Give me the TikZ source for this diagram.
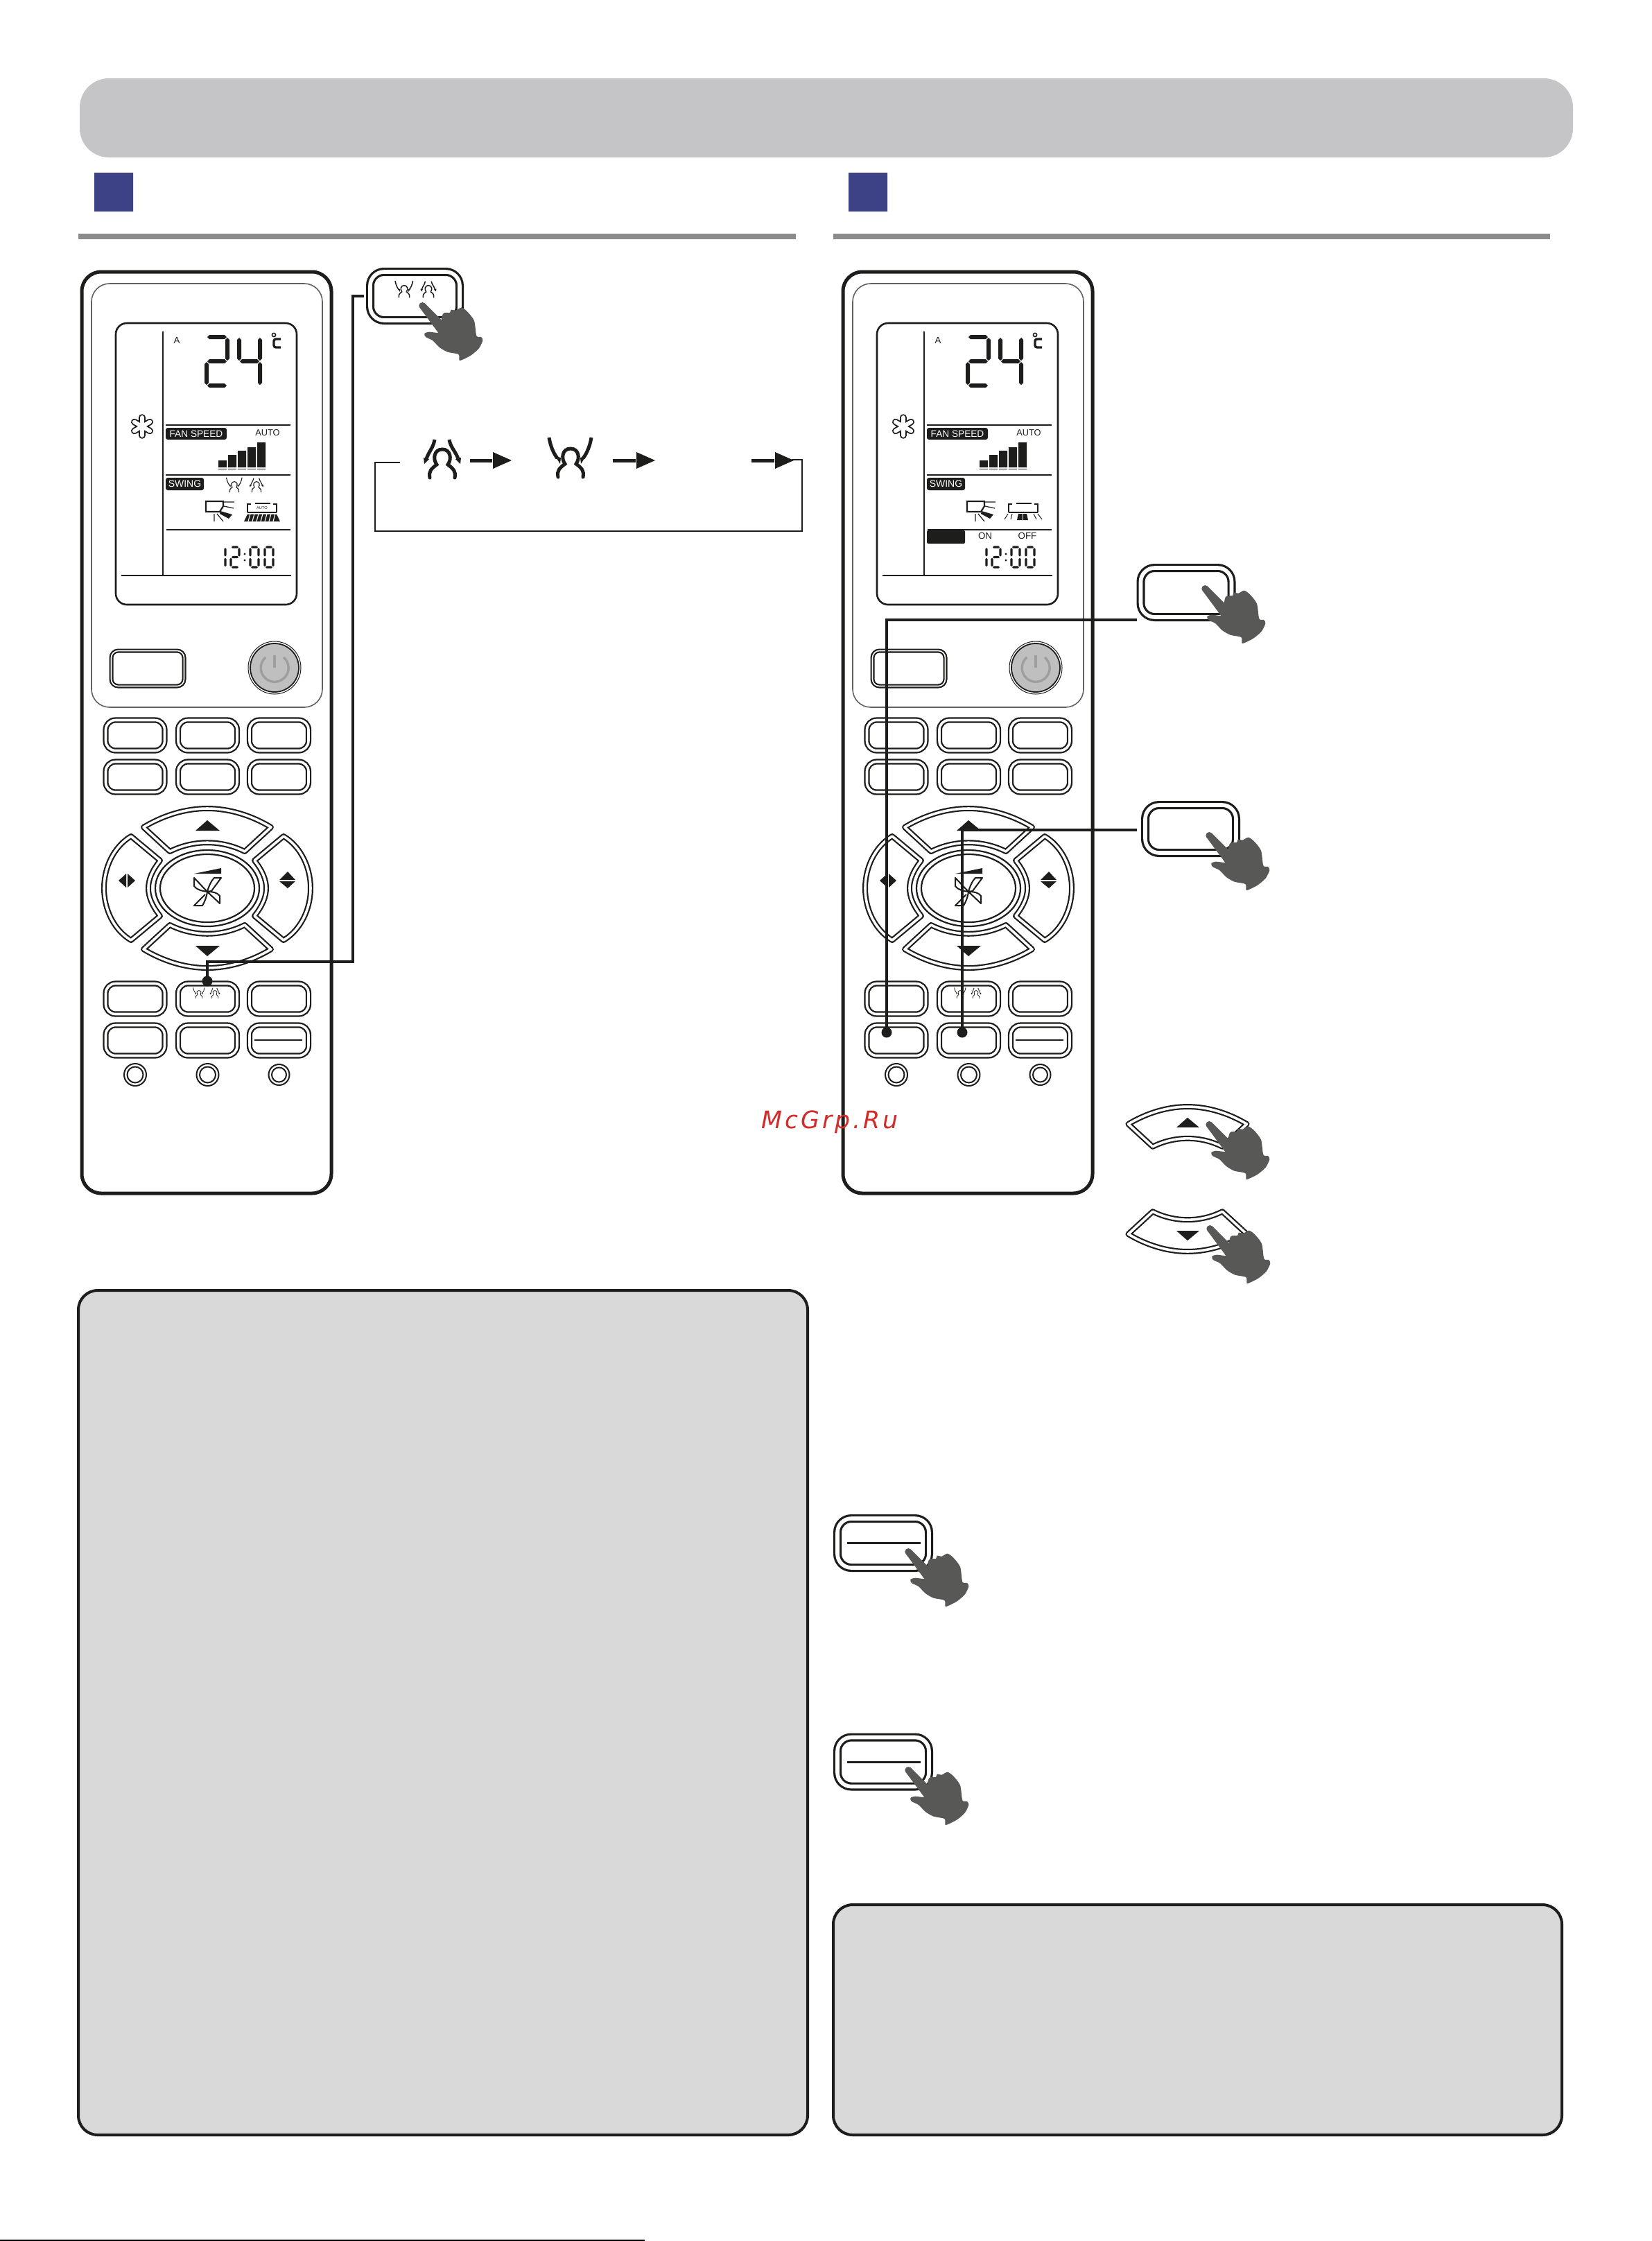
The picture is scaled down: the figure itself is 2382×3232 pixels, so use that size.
\documentclass[tikz,border=0pt]{standalone}
\usepackage{fontspec}
\setmainfont{Liberation Sans}
\newfontfamily\wmfont[LetterSpace=11.5]{DejaVu Sans}
\definecolor{ink}{HTML}{1D1D1B}
\definecolor{barc}{HTML}{C5C4C6}
\definecolor{bluec}{HTML}{3C4285}
\definecolor{rulec}{HTML}{8C8C8C}
\definecolor{panelc}{HTML}{D9D9D9}
\definecolor{handc}{HTML}{585857}
\definecolor{wmc}{HTML}{D42A2A}
\tikzset{
 lw/.style={line width=#1*0.3pt},
 rembtn/.style 2 args={draw=ink,double=white,lw=2.3,double distance=3.6*0.3pt,rounded corners=14*0.3pt,
   minimum width=#1*0.3pt,minimum height=#2*0.3pt,inner sep=0pt,outer sep=0pt},
 keybtn/.style 2 args={draw=ink,double=white,lw=2.2,double distance=1.6*0.3pt,rounded corners=10*0.3pt,
   minimum width=#1*0.3pt,minimum height=#2*0.3pt,inner sep=0pt,outer sep=0pt},
 callbtn/.style 2 args={draw=ink,double=white,lw=3.2,double distance=5.6*0.3pt,rounded corners=20*0.3pt,
   minimum width=#1*0.3pt,minimum height=#2*0.3pt,inner sep=0pt,outer sep=0pt},
 dbl/.style={draw=ink,double=white,lw=2.2,double distance=3.6*0.3pt,line join=round,fill=white},
 conn/.style={draw=ink,lw=4.5,line join=miter},
 dotn/.style={circle,fill=ink,minimum size=15*0.3pt,inner sep=0pt,outer sep=0pt},
 panel/.style={draw=ink,fill=panelc,lw=4,rounded corners=28*0.3pt},
 txt/.style={inner sep=0pt,outer sep=0pt,font=\fontsize{#1}{#1}\selectfont},
}
% --- seven segment helpers
\newcommand\hsg[3]{\fill[ink] ({#1},{#2}) -- ({#1+\segt},{#2-\segt}) -- ({#1+#3-\segt},{#2-\segt}) -- ({#1+#3},{#2}) -- ({#1+#3-\segt},{#2+\segt}) -- ({#1+\segt},{#2+\segt}) -- cycle;}
\newcommand\vsg[3]{\fill[ink] ({#1},{#2}) -- ({#1-\segt},{#2+\segt}) -- ({#1-\segt},{#2+#3-\segt}) -- ({#1},{#2+#3}) -- ({#1+\segt},{#2+#3-\segt}) -- ({#1+\segt},{#2+\segt}) -- cycle;}
\newcommand\digit[6]{% x y w h t segs
 \def\segt{#5}%
 \foreach \s in {#6}{%
  \ifnum\s=1 \hsg{#1+1}{#2}{#3-2}\fi
  \ifnum\s=2 \vsg{#1+#3}{#2+1}{#4/2-2}\fi
  \ifnum\s=3 \vsg{#1+#3}{#2+#4/2+1}{#4/2-2}\fi
  \ifnum\s=4 \hsg{#1+1}{#2+#4}{#3-2}\fi
  \ifnum\s=5 \vsg{#1}{#2+#4/2+1}{#4/2-2}\fi
  \ifnum\s=6 \vsg{#1}{#2+1}{#4/2-2}\fi
  \ifnum\s=7 \hsg{#1+1}{#2+#4/2}{#3-2}\fi
 }}
% --- person icons, arrows bending out (A) and in (B)
\newcommand\personbody{\draw[ink,line cap=round] (-18,21) .. controls (-20,12) and (-16,8) .. (-8,2) .. controls (-14,-6) and (-12,-20) .. (0,-20) .. controls (12,-20) and (14,-6) .. (8,2) .. controls (16,8) and (20,12) .. (18,21);}
\newcommand\personA[4]{\begin{scope}[shift={(#1,#2)},scale=#3,lw=#4]
 \personbody
 \draw[ink] (-11,-34) .. controls (-13,-22) and (-20,-16) .. (-23,-6);
 \draw[ink] (10,-34) .. controls (12,-22) and (20,-16) .. (23,-6);
 \fill[ink] (-27,-8) -- (-19,-6) -- (-26,1) -- cycle;
 \fill[ink] (27,-8) -- (19,-6) -- (26,1) -- cycle;
\end{scope}}
\newcommand\personB[4]{\begin{scope}[shift={(#1,#2)},scale=#3,lw=#4]
 \personbody
 \draw[ink] (-31,-36) .. controls (-29,-24) and (-25,-14) .. (-19,-6);
 \draw[ink] (30,-36) .. controls (28,-24) and (24,-14) .. (18,-6);
 \fill[ink] (-22,-9) -- (-14,-7) -- (-15,2) -- cycle;
 \fill[ink] (22,-9) -- (14,-7) -- (15,2) -- cycle;
\end{scope}}
% --- hand
\newcommand\handat[2]{\begin{scope}[shift={(#1,#2)},scale=1/3]
 \fill[handc] plot[smooth cycle,tension=.45] coordinates {(90,120) (105,50) (135,45) (140,32) (160,35) (185,23) (210,40) (240,80) (250,145) (270,150) (277,165) (260,200) (225,230) (185,250) (175,250) (172,225) (125,215) (90,195) (60,165) (30,150) (25,135) (45,128) (85,132)};
 \fill[handc] (5,24) -- (28,6) -- (98,76) -- (105,130) -- (85,132) -- cycle;
 \fill[handc] (16,15) circle (15);
\end{scope}}
% --- direction keys
\newcommand\dirU{\draw[dbl] (-92,-88) .. controls (-62,-106) and (-30,-115) .. (0,-115) .. controls (30,-115) and (62,-106) .. (92,-88) -- (54,-53) .. controls (20,-70) and (-20,-70) .. (-54,-53) -- cycle;
 \fill[ink] (-17,-83) -- (0,-98) -- (18,-83) -- cycle;}
\newcommand\dirL{\draw[dbl] (-110,-75) .. controls (-135,-60) and (-149,-30) .. (-149,0) .. controls (-149,30) and (-135,60) .. (-110,75) -- (-68,40) .. controls (-80,25) and (-85,12) .. (-85,0) .. controls (-85,-12) and (-80,-25) .. (-68,-40) -- cycle;}
% --- remote
\newcommand\remote[3]{% prefix, dx, variant
\begin{scope}[shift={(#2,0)}]
 \draw[ink,lw=5,rounded corners=28*0.3pt] (118,392) rectangle (478,1721);
 \draw[ink!70,lw=1.6,rounded corners=26*0.3pt] (132,409) rectangle (465,1020);
 \draw[ink,lw=2.6,rounded corners=16*0.3pt] (167,466) rectangle (428,872);
 \draw[ink,lw=2.6] (235,478) -- (235,830) (175,830) -- (420,830);
 \draw[ink,lw=2.6] (239,613) -- (419,613) (239,685) -- (419,685) (240,764) -- (419,764);
 \node[txt=4,text=ink] (#1A) at (255,491) {A};
 \digit{298}{486}{30}{70}{3}{1,2,7,5,4}
 \digit{345}{486}{30}{70}{3}{6,7,2,3}
 \draw[ink,lw=1.6] (395,483) circle (2.6);
 \draw[ink,lw=3.4,rounded corners=3*0.3pt] (405,489) -- (395,489) -- (395,501) -- (405,501);
 % asterisk
 \foreach \a in {30,90,150}{\draw[ink,lw=9.5,line cap=round] ({205+13*cos(\a)},{615-13*sin(\a)}) -- ({205-13*cos(\a)},{615+13*sin(\a)});}
 \foreach \a in {30,90,150}{\draw[white,lw=5.8,line cap=round] ({205+13*cos(\a)},{615-13*sin(\a)}) -- ({205-13*cos(\a)},{615+13*sin(\a)});}
 % fan speed
 \fill[ink,rounded corners=3*0.3pt] (239,617) rectangle (327,634);
 \node[txt=4.1,text=white] (#1fan) at (283,625.5) {FAN SPEED};
 \node[txt=3.85,text=ink] (#1auto) at (386,624) {AUTO};
 \fill[ink] (315,664) rectangle (327,674) (329,656) rectangle (341,674) (343,650) rectangle (355,674) (357,645) rectangle (369,674) (371,638) rectangle (383,674);
 \draw[ink,lw=1.2] (315,676.5) -- (327,676.5) (329,676.5) -- (341,676.5) (343,676.5) -- (355,676.5) (357,676.5) -- (369,676.5) (371,676.5) -- (383,676.5);
 % swing
 \fill[ink,rounded corners=3*0.3pt] (239,689) rectangle (294,707);
 \node[txt=4.2,text=white] (#1swing) at (266.5,698) {SWING};
 % indoor unit
 \draw[ink,lw=2.2] (297,723) -- (322,723) -- (322,730) -- (317,738) -- (297,738) -- cycle;
 \draw[ink,lw=1.2] (323,724) -- (338,724) (323,730) -- (337,733) (313,741) -- (322,752) (309,741) -- (309,752);
 \fill[ink] (318,737) -- (335,742) -- (330,748) -- (317,741) -- cycle;
 % ceiling unit
 \draw[ink,lw=1.8] (357,739) -- (357,727) -- (362,727) (394,727) -- (399,727) -- (399,739) (368,726) -- (390,726);
 \draw[ink,lw=1.8] (357,739) -- (399,739);
 \ifnum#3=1
  \personB{338}{702}{.37}{1.1}
  \personA{370}{702}{.37}{1.1}
  \node[txt=1.7,text=ink] (#1auto2) at (378,733) {AUTO};
  \fill[ink] (357,741.5) -- (399,741.5) -- (404,752) -- (352,752) -- cycle;
  \foreach \x in {361,367,373,379,385,391,397}{\draw[white,lw=1.1] (\x,741) -- (\x-3,752);}
 \else
  \draw[ink,lw=1] (356,741) -- (351,749) (362,741) -- (360,749) (393,741) -- (397,749) (399,741) -- (405,749);
  \fill[ink] (371,741) -- (383,741) -- (385,750) -- (369,750) -- cycle;
  \draw[white,lw=1] (377,741) -- (377,750);
  \fill[ink,rounded corners=2*0.3pt] (239,765) rectangle (294,784);
  \node[txt=4,text=ink] (#1on) at (323,773) {ON};
  \node[txt=4,text=ink] (#1off) at (384,773) {OFF};
 \fi
 % clock
 \digit{313}{789}{12}{29}{1.7}{2,3}
 \digit{333}{789}{12}{29}{1.7}{1,2,7,5,4}
 \fill[ink] (353,799) circle (1.7) (353,808) circle (1.7);
 \digit{361}{789}{12}{29}{1.7}{1,2,3,4,5,6}
 \digit{382}{789}{12}{29}{1.7}{1,2,3,4,5,6}
 % key and power
 \node[keybtn={105}{51}] (#1key) at (213,964) {};
 \draw[ink,lw=1] (396,963) circle (38);
 \draw[ink,fill=black!25,lw=1.8] (396,963) circle (35);
 \draw[black!38,lw=3.4] (409,948) arc (-50:230:20);
 \draw[black!38,lw=3.4] (396,945) -- (396,963);
 % key grid
 \foreach \r/\yy in {1/1060.5,2/1120.5,3/1440.5,4/1500.5}{\foreach \c/\xx in {1/195,2/299.5,3/402.5}{
   \node[rembtn={85}{44}] (#1k\r\c) at (\xx,\yy) {};}}
 \draw[ink,lw=2] (367,1500) -- (436,1500);
 \personB{287}{1434}{.27}{.8}
 \personA{310}{1434}{.27}{.8}
 \foreach \c/\xx/\rr in {1/195/16,2/299.5/16,3/402.5/15}{
  \draw[ink,lw=2,fill=white] (\xx,1550) circle (\rr);
  \draw[ink,lw=2] (\xx,1550) circle (\rr-4.5);
 }
 % d-pad
 \begin{scope}[shift={(299,1281)}]
  \dirU
  \begin{scope}[yscale=-1]\dirU\end{scope}
  \dirL
  \begin{scope}[xscale=-1]\dirL\end{scope}
  \fill[ink] (-128,-11) -- (-117,-21) -- (-117,-1) -- cycle (-115,-21) -- (-115,-1) -- (-104,-11) -- cycle;
  \fill[ink] (104,-12) -- (116,-24) -- (127,-12) -- cycle (104,-10) -- (116,0) -- (127,-10) -- cycle;
  \draw[ink,lw=2.2,fill=white] (0,0) ellipse (75 and 55);
  \draw[ink,lw=2.2] (0,0) ellipse (68 and 49);
  \fill[ink] (-19,-21) -- (20,-29) -- (20,-21) -- cycle;
  \begin{scope}[shift={(0,5)}]
  \draw[ink,lw=2,line join=round] (0,0) -- (-19,-20) -- (-19,-8) .. controls (-14,-2) and (-7,-1) .. (0,0)
     .. controls (2,-8) and (6,-16) .. (10,-20) -- (20,-20) -- (6,-1) -- (0,0)
     -- (18,17) -- (18,6) .. controls (14,1) and (8,0) .. (0,0)
     .. controls (-1,8) and (-4,15) .. (-7,20) -- (-19,20) -- (-3,4);
  \end{scope}
 \end{scope}
\end{scope}}
\begin{document}
\begin{tikzpicture}[x=0.3pt,y=-0.3pt]
\useasboundingbox (0,0) rectangle (2382,3232);
\fill[white] (0,0) rectangle (2382,3232);
% header
\fill[barc,rounded corners=42*0.3pt] (115,113) rectangle (2269,227);
\fill[bluec] (136,249) rectangle (192,305) (1224,249) rectangle (1280,305);
\draw[rulec,lw=8] (113,341) -- (1148,341) (1202,341) -- (2236,341);
% panels
\draw[panel] (113,1861) rectangle (1165,3079);
\draw[panel] (1202,2747) rectangle (2253,3079);
% remotes
\remote{ra}{0}{1}
\remote{rb}{1098}{2}
% cycle diagram
\personA{638}{668}{1}{5}
\personB{823}{667}{1}{5}
\coordinate (s1) at (678,664); \coordinate (h1) at (738,664);
\coordinate (s2) at (884,664); \coordinate (h2) at (945,664);
\coordinate (s3) at (1084,664); \coordinate (h3) at (1145,664);
\foreach \n in {1,2,3}{
 \draw[ink,lw=5] (s\n) -- ([xshift=-28*0.3pt]h\n);
 \fill[ink] (h\n) -- ++(-27,-12) -- ++(0,24) -- cycle;
}
\coordinate (l1) at (577,667); \coordinate (l2) at (541,667); \coordinate (l3) at (541,766);
\coordinate (l4) at (1157,766); \coordinate (l5) at (1157,663); \coordinate (l6) at (1142,663);
\draw[ink,lw=1.6] (l1) -- (l2) -- (l3) -- (l4) -- (l5) -- (l6);
% callout 1
\node[callbtn={129}{70}] (c1) at (598.5,427) {};
\personB{583}{420}{.42}{1.5}
\personA{618}{420}{.42}{1.5}
\node[dotn] (d1) at (299,1415) {};
\coordinate (j1) at (509,1387);
\draw[conn] (d1.center) -- (d1.center |- j1) -- (j1) -- (j1 |- c1) -- ([xshift=-9*0.3pt]c1.west);
\handat{604}{436}
% callouts 2, 3
\node[callbtn={131}{71}] (c2) at (1711,854.5) {};
\node[dotn] (d2) at (1279,1489) {};
\coordinate (e2) at (1640,894);
\draw[conn] (d2.center) -- (d2.center |- e2) -- (e2);
\handat{1733}{844}
\node[callbtn={131}{69}] (c3) at (1717.5,1195.5) {};
\node[dotn] (d3) at (1388,1489) {};
\coordinate (e3) at (1640,1197);
\draw[conn] (d3.center) -- (d3.center |- e3) -- (e3);
\handat{1739}{1200}
% arrow callouts
\begin{scope}[shift={(1713,1703)},scale=.93]\dirU\end{scope}
\handat{1739}{1617}
\begin{scope}[shift={(1713,1698)},scale=.93,yscale=-1]\dirU\end{scope}
\handat{1740}{1767}
% wide callouts
\node[callbtn={132}{71}] (c4) at (1274,2225.5) {};
\draw[ink,lw=3] ([xshift=-52*0.3pt]c4.center) -- ([xshift=54*0.3pt]c4.center);
\handat{1305}{2233}
\node[callbtn={132}{71}] (c5) at (1274,2541) {};
\draw[ink,lw=3] ([xshift=-52*0.3pt]c5.center) -- ([xshift=54*0.3pt]c5.center);
\handat{1305}{2548}
% watermark
\node[inner sep=0pt,text=wmc,font={\wmfont\itshape\fontsize{10.4}{12}\selectfont}] (wm) at (1197,1618) {McGrp.Ru};
% bottom line
\draw[black,lw=2] (0,3231) -- (930,3231);
\end{tikzpicture}
\end{document}
